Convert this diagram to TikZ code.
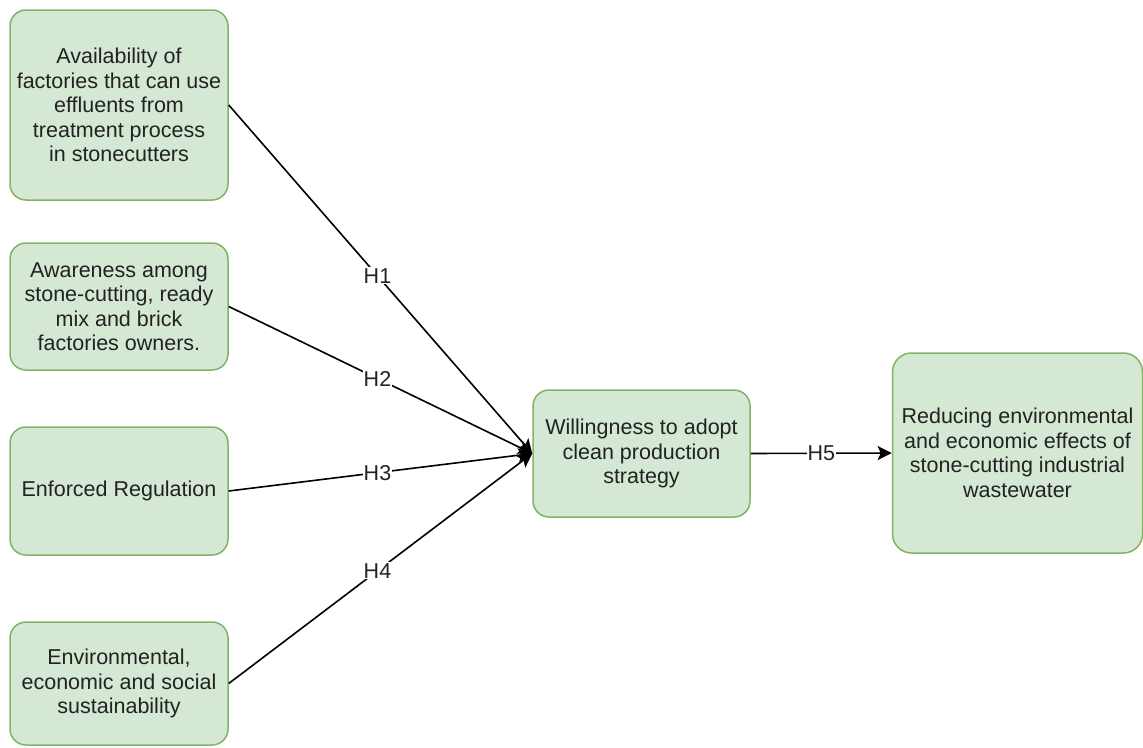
\documentclass[tikz,border=0pt]{standalone}
\usepackage{fontspec}
\setmainfont{Liberation Sans}
\usetikzlibrary{arrows.meta}
\definecolor{boxfill}{HTML}{D5E8D4}
\definecolor{boxline}{HTML}{82B366}
\definecolor{txt}{HTML}{222222}
\begin{document}
\begin{tikzpicture}[x=1pt,y=1pt,
  box/.style={draw=boxline, fill=boxfill, line width=1.5pt, rounded corners=16pt,
    align=center, inner sep=0pt, text=txt,
    font=\fontsize{21.5}{24.5}\selectfont},
  conn/.style={line width=1.6pt, draw=black, -{Stealth[length=14pt,width=14pt,inset=3pt]}},
  hlab/.style={fill=white, inner sep=1pt, text=txt, font=\fontsize{21.5}{24.5}\selectfont}
]
\useasboundingbox (0,0) rectangle (1143,-747);
\node[box, minimum width=218pt, minimum height=190pt] (a1) at (119,-105)
  {Availability of\\factories that can use\\effluents from\\treatment process\\in stonecutters};
\node[box, minimum width=218pt, minimum height=127pt] (a2) at (119,-306.5)
  {Awareness among\\stone-cutting, ready\\mix and brick\\factories owners.};
\node[box, minimum width=218pt, minimum height=128pt] (a3) at (119,-491)
  {Enforced Regulation};
\node[box, minimum width=218pt, minimum height=123pt] (a4) at (119,-683.5)
  {Environmental,\\economic and social\\sustainability};
\node[box, minimum width=217pt, minimum height=127pt] (c) at (641.5,-453.5)
  {Willingness to adopt\\clean production\\strategy};
\node[box, minimum width=250pt, minimum height=200pt, rounded corners=19pt] (r) at (1017.5,-453)
  {Reducing environmental\\and economic effects of\\stone-cutting industrial\\wastewater};
\draw[conn] (a1.east) -- node[hlab, pos=0.49] (h1) {H1} (c.west);
\draw[conn] (a2.east) -- node[hlab, pos=0.49] (h2) {H2} (c.west);
\draw[conn] (a3.east) -- node[hlab, pos=0.49] (h3) {H3} (c.west);
\draw[conn] (a4.east) -- node[hlab, pos=0.49] (h4) {H4} (c.west);
\draw[conn] (c.east) -- node[hlab, pos=0.5] (h5) {H5} (r.west);
\end{tikzpicture}
\end{document}
